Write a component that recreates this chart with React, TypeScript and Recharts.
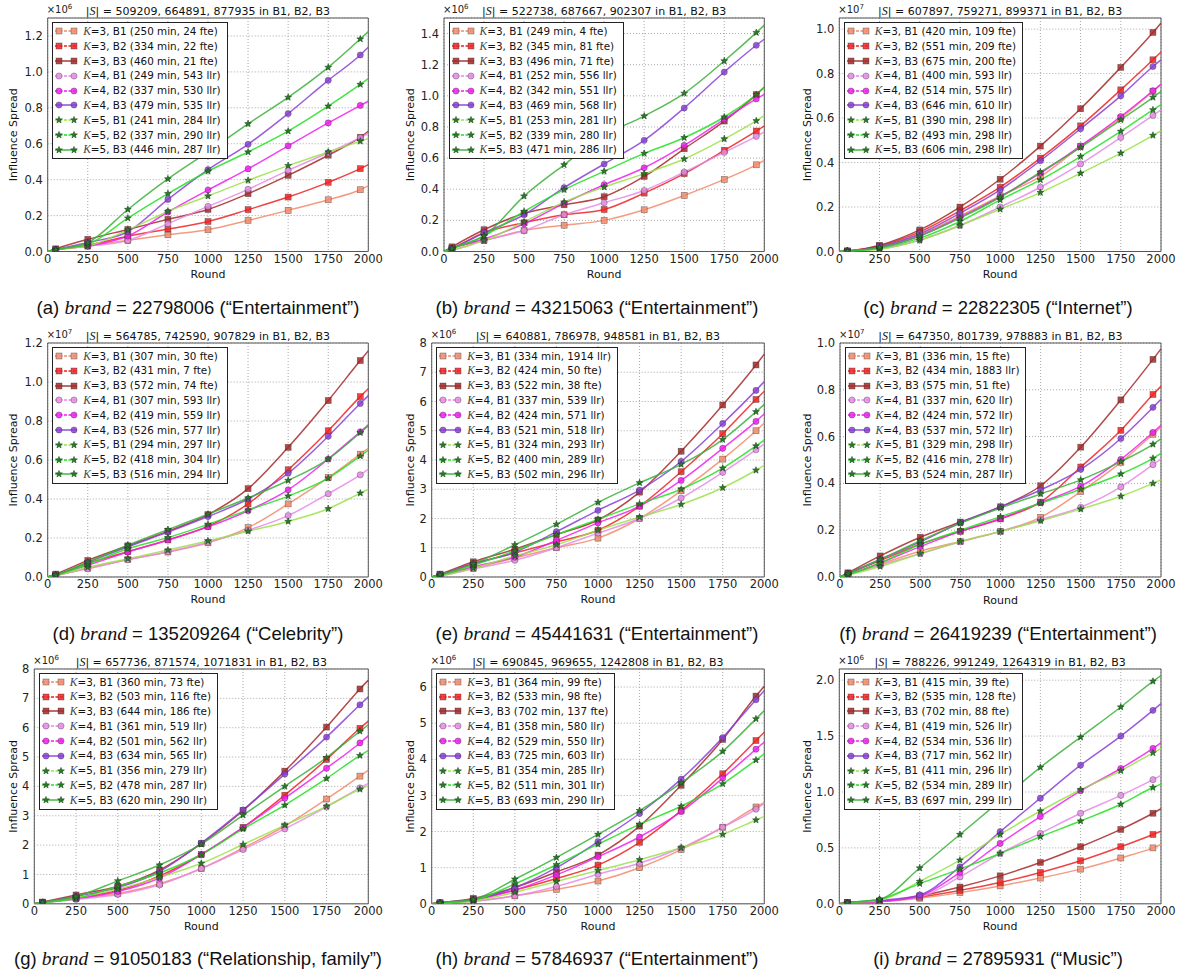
import React from "react";
import { LineChart, Line, XAxis, YAxis, CartesianGrid, Legend, ReferenceArea } from "recharts";

// x positions of the samples; 0 and 2000 are the line ends, the rest carry markers
const ROUNDS = [0, 50, 250, 500, 750, 1000, 1250, 1500, 1750, 1950, 2000];
const X_TICKS = [0, 250, 500, 750, 1000, 1250, 1500, 1750, 2000];

// series order in every panel: K=3 B1..B3, K=4 B1..B3, K=5 B1..B3
const SERIES_KEYS = ["k3b1", "k3b2", "k3b3", "k4b1", "k4b2", "k4b3", "k5b1", "k5b2", "k5b3"];
const SERIES_K = [3, 3, 3, 4, 4, 4, 5, 5, 5];
const SERIES_B = ["B1", "B2", "B3", "B1", "B2", "B3", "B1", "B2", "B3"];
const SERIES_COLORS = ["#f28b6b", "#ee2222", "#a52a2a", "#e68ae6", "#f020f0", "#8a3fd8", "#9be24a", "#22e022", "#3cb03c"];
const SERIES_SHAPES = ["square", "square", "square", "circle", "circle", "circle", "star", "star", "star"];

// (a) brand 22798006, x10^6
const valuesA = [
  [0, 0.008, 0.03, 0.062, 0.093, 0.121, 0.173, 0.229, 0.288, 0.344, 0.365],
  [0, 0.01, 0.035, 0.085, 0.125, 0.167, 0.233, 0.303, 0.385, 0.461, 0.484],
  [0, 0.015, 0.068, 0.123, 0.179, 0.234, 0.322, 0.424, 0.536, 0.636, 0.67],
  [0, 0.01, 0.03, 0.061, 0.155, 0.251, 0.346, 0.452, 0.55, 0.634, 0.657],
  [0, 0.01, 0.03, 0.086, 0.22, 0.342, 0.46, 0.588, 0.716, 0.813, 0.837],
  [0, 0.01, 0.05, 0.11, 0.29, 0.456, 0.597, 0.768, 0.953, 1.094, 1.137],
  [0, 0.01, 0.03, 0.12, 0.223, 0.309, 0.396, 0.478, 0.554, 0.614, 0.629],
  [0, 0.01, 0.04, 0.186, 0.322, 0.447, 0.554, 0.67, 0.809, 0.93, 0.962],
  [0, 0.01, 0.05, 0.234, 0.404, 0.555, 0.711, 0.858, 1.025, 1.183, 1.224],
];
const legendA = ["250 min, 24 fte", "334 min, 22 fte", "460 min, 21 fte", "249 min, 543 llr", "337 min, 530 llr", "479 min, 535 llr", "241 min, 284 llr", "337 min, 290 llr", "446 min, 287 llr"];

// (b) brand 43215063, x10^6
const valuesB = [
  [0, 0.02, 0.07, 0.135, 0.169, 0.2, 0.268, 0.36, 0.463, 0.557, 0.585],
  [0, 0.02, 0.12, 0.185, 0.236, 0.27, 0.375, 0.5, 0.65, 0.774, 0.806],
  [0, 0.03, 0.14, 0.245, 0.3, 0.352, 0.482, 0.66, 0.838, 1.008, 1.057],
  [0, 0.01, 0.07, 0.135, 0.236, 0.313, 0.392, 0.51, 0.637, 0.74, 0.768],
  [0, 0.02, 0.08, 0.178, 0.31, 0.429, 0.538, 0.682, 0.849, 0.98, 1.01],
  [0, 0.02, 0.12, 0.236, 0.41, 0.562, 0.714, 0.922, 1.153, 1.325, 1.364],
  [0, 0.01, 0.07, 0.19, 0.317, 0.414, 0.5, 0.594, 0.723, 0.84, 0.875],
  [0, 0.02, 0.1, 0.257, 0.397, 0.515, 0.63, 0.731, 0.864, 1.008, 1.053],
  [0, 0.02, 0.1, 0.356, 0.557, 0.745, 0.87, 1.016, 1.224, 1.406, 1.454],
];
const legendB = ["249 min, 4 fte", "345 min, 81 fte", "496 min, 71 fte", "252 min, 556 llr", "342 min, 551 llr", "469 min, 568 llr", "253 min, 281 llr", "339 min, 280 llr", "471 min, 286 llr"];

// (c) brand 22822305, x10^7
const valuesC = [
  [0, 0.002, 0.02, 0.075, 0.16, 0.25, 0.337, 0.472, 0.6, 0.72, 0.75],
  [0, 0.002, 0.025, 0.088, 0.183, 0.289, 0.42, 0.565, 0.727, 0.862, 0.897],
  [0, 0.002, 0.028, 0.097, 0.2, 0.325, 0.474, 0.642, 0.828, 0.985, 1.027],
  [0, 0.002, 0.012, 0.052, 0.117, 0.2, 0.289, 0.394, 0.513, 0.612, 0.637],
  [0, 0.002, 0.018, 0.07, 0.154, 0.247, 0.352, 0.475, 0.607, 0.723, 0.753],
  [0, 0.002, 0.022, 0.08, 0.172, 0.277, 0.408, 0.552, 0.7, 0.832, 0.862],
  [0, 0.002, 0.01, 0.05, 0.117, 0.19, 0.265, 0.352, 0.442, 0.522, 0.543],
  [0, 0.002, 0.015, 0.06, 0.135, 0.232, 0.322, 0.427, 0.54, 0.637, 0.66],
  [0, 0.002, 0.018, 0.07, 0.15, 0.244, 0.357, 0.468, 0.592, 0.693, 0.72],
];
const legendC = ["420 min, 109 fte", "551 min, 209 fte", "675 min, 200 fte", "400 min, 593 llr", "514 min, 575 llr", "646 min, 610 llr", "390 min, 298 llr", "493 min, 298 llr", "606 min, 298 llr"];

// (d) brand 135209264, x10^7
const valuesD = [
  [0, 0.008, 0.045, 0.09, 0.128, 0.175, 0.253, 0.375, 0.51, 0.63, 0.66],
  [0, 0.01, 0.07, 0.13, 0.19, 0.26, 0.375, 0.55, 0.75, 0.925, 0.965],
  [0, 0.015, 0.085, 0.16, 0.235, 0.32, 0.453, 0.665, 0.905, 1.11, 1.16],
  [0, 0.008, 0.042, 0.088, 0.13, 0.178, 0.24, 0.315, 0.427, 0.524, 0.552],
  [0, 0.01, 0.06, 0.128, 0.19, 0.257, 0.34, 0.447, 0.605, 0.745, 0.78],
  [0, 0.01, 0.075, 0.155, 0.23, 0.31, 0.4, 0.532, 0.722, 0.89, 0.93],
  [0, 0.008, 0.05, 0.094, 0.138, 0.185, 0.235, 0.285, 0.35, 0.43, 0.45],
  [0, 0.01, 0.065, 0.145, 0.202, 0.27, 0.343, 0.415, 0.507, 0.62, 0.65],
  [0, 0.01, 0.077, 0.163, 0.243, 0.322, 0.405, 0.495, 0.605, 0.74, 0.775],
];
const legendD = ["307 min, 30 fte", "431 min, 7 fte", "572 min, 74 fte", "307 min, 593 llr", "419 min, 559 llr", "526 min, 577 llr", "294 min, 297 llr", "418 min, 304 llr", "516 min, 294 llr"];

// (e) brand 45441631, x10^6
const valuesE = [
  [0, 0.05, 0.3, 0.65, 1.0, 1.33, 2.0, 2.95, 4.03, 5.0, 5.27],
  [0, 0.08, 0.45, 0.82, 1.2, 1.6, 2.42, 3.6, 4.9, 6.07, 6.35],
  [0, 0.1, 0.52, 0.95, 1.45, 1.95, 2.9, 4.3, 5.88, 7.25, 7.62],
  [0, 0.04, 0.28, 0.57, 1.0, 1.5, 2.0, 2.7, 3.58, 4.35, 4.55],
  [0, 0.05, 0.35, 0.68, 1.25, 1.85, 2.42, 3.3, 4.4, 5.32, 5.58],
  [0, 0.08, 0.45, 0.85, 1.55, 2.28, 2.97, 3.95, 5.25, 6.38, 6.68],
  [0, 0.04, 0.3, 0.72, 1.1, 1.6, 2.05, 2.48, 3.05, 3.65, 3.82],
  [0, 0.06, 0.4, 0.9, 1.45, 1.97, 2.5, 3.0, 3.72, 4.48, 4.68],
  [0, 0.08, 0.45, 1.1, 1.8, 2.55, 3.22, 3.85, 4.7, 5.65, 5.9],
];
const legendE = ["334 min, 1914 llr", "424 min, 50 fte", "522 min, 38 fte", "337 min, 539 llr", "424 min, 571 llr", "521 min, 518 llr", "324 min, 293 llr", "400 min, 289 llr", "502 min, 296 llr"];

// (f) brand 26419239, x10^7
const valuesF = [
  [0, 0.01, 0.055, 0.11, 0.152, 0.195, 0.255, 0.365, 0.49, 0.61, 0.64],
  [0, 0.015, 0.07, 0.14, 0.195, 0.248, 0.32, 0.47, 0.627, 0.78, 0.815],
  [0, 0.018, 0.09, 0.17, 0.235, 0.3, 0.39, 0.555, 0.757, 0.93, 0.975],
  [0, 0.01, 0.05, 0.1, 0.15, 0.195, 0.245, 0.298, 0.385, 0.48, 0.505],
  [0, 0.01, 0.06, 0.13, 0.195, 0.25, 0.318, 0.388, 0.503, 0.618, 0.648],
  [0, 0.015, 0.075, 0.15, 0.232, 0.3, 0.372, 0.46, 0.592, 0.725, 0.76],
  [0, 0.008, 0.045, 0.1, 0.152, 0.195, 0.24, 0.29, 0.345, 0.4, 0.415],
  [0, 0.01, 0.06, 0.14, 0.2, 0.258, 0.315, 0.375, 0.44, 0.507, 0.528],
  [0, 0.015, 0.075, 0.155, 0.23, 0.295, 0.355, 0.415, 0.493, 0.567, 0.59],
];
const legendF = ["336 min, 15 fte", "434 min, 1883 llr", "575 min, 51 fte", "337 min, 620 llr", "424 min, 572 llr", "537 min, 572 llr", "329 min, 298 llr", "416 min, 278 llr", "524 min, 287 llr"];

// (g) brand 91050183, x10^6
const valuesG = [
  [0, 0.04, 0.18, 0.35, 0.68, 1.2, 1.9, 2.65, 3.57, 4.35, 4.55],
  [0, 0.05, 0.2, 0.45, 0.95, 1.68, 2.6, 3.7, 4.92, 5.98, 6.22],
  [0, 0.06, 0.3, 0.6, 1.15, 2.05, 3.18, 4.52, 6.02, 7.32, 7.62],
  [0, 0.03, 0.15, 0.32, 0.65, 1.2, 1.85, 2.55, 3.3, 3.95, 4.1],
  [0, 0.04, 0.18, 0.42, 0.88, 1.68, 2.6, 3.6, 4.62, 5.48, 5.72],
  [0, 0.05, 0.25, 0.55, 1.1, 2.07, 3.2, 4.42, 5.68, 6.78, 7.05],
  [0, 0.04, 0.2, 0.5, 0.9, 1.38, 2.02, 2.68, 3.32, 3.9, 4.02],
  [0, 0.04, 0.18, 0.6, 1.05, 1.68, 2.55, 3.36, 4.27, 5.05, 5.22],
  [0, 0.05, 0.25, 0.78, 1.32, 2.03, 3.02, 4.0, 4.98, 5.88, 6.1],
];
const legendG = ["360 min, 73 fte", "503 min, 116 fte", "644 min, 186 fte", "361 min, 519 llr", "501 min, 562 llr", "634 min, 565 llr", "356 min, 279 llr", "478 min, 287 llr", "620 min, 290 llr"];

// (h) brand 57846937, x10^6
const valuesH = [
  [0, 0.02, 0.07, 0.22, 0.4, 0.63, 1.0, 1.5, 2.12, 2.68, 2.8],
  [0, 0.02, 0.12, 0.38, 0.7, 1.07, 1.7, 2.58, 3.6, 4.52, 4.75],
  [0, 0.03, 0.15, 0.45, 0.88, 1.35, 2.15, 3.28, 4.55, 5.75, 6.02],
  [0, 0.02, 0.07, 0.22, 0.48, 0.82, 1.12, 1.55, 2.12, 2.62, 2.78],
  [0, 0.02, 0.1, 0.38, 0.8, 1.3, 1.85, 2.55, 3.48, 4.28, 4.48],
  [0, 0.03, 0.12, 0.45, 1.0, 1.72, 2.5, 3.45, 4.6, 5.65, 5.9],
  [0, 0.02, 0.08, 0.32, 0.62, 0.92, 1.22, 1.55, 1.92, 2.32, 2.42],
  [0, 0.02, 0.1, 0.55, 1.08, 1.65, 2.2, 2.7, 3.32, 3.98, 4.15],
  [0, 0.03, 0.12, 0.68, 1.28, 1.92, 2.58, 3.35, 4.22, 5.12, 5.35],
];
const legendH = ["364 min, 99 fte", "533 min, 98 fte", "702 min, 137 fte", "358 min, 580 llr", "529 min, 550 llr", "725 min, 603 llr", "354 min, 285 llr", "511 min, 301 llr", "693 min, 290 llr"];

// (i) brand 27895931, x10^6
const valuesI = [
  [0, 0.01, 0.02, 0.05, 0.1, 0.16, 0.23, 0.31, 0.41, 0.5, 0.53],
  [0, 0.01, 0.02, 0.06, 0.12, 0.19, 0.28, 0.385, 0.51, 0.62, 0.65],
  [0, 0.01, 0.02, 0.07, 0.15, 0.25, 0.37, 0.51, 0.665, 0.81, 0.85],
  [0, 0.01, 0.02, 0.06, 0.24, 0.45, 0.63, 0.81, 0.97, 1.11, 1.15],
  [0, 0.01, 0.02, 0.07, 0.28, 0.54, 0.78, 1.01, 1.21, 1.39, 1.44],
  [0, 0.01, 0.03, 0.08, 0.33, 0.645, 0.945, 1.24, 1.5, 1.73, 1.79],
  [0, 0.01, 0.03, 0.2, 0.39, 0.62, 0.83, 1.02, 1.19, 1.35, 1.39],
  [0, 0.01, 0.04, 0.18, 0.31, 0.45, 0.6, 0.74, 0.89, 1.04, 1.07],
  [0, 0.01, 0.04, 0.32, 0.62, 0.92, 1.22, 1.49, 1.76, 1.99, 2.04],
];
const legendI = ["415 min, 39 fte", "535 min, 128 fte", "702 min, 88 fte", "419 min, 526 llr", "534 min, 536 llr", "717 min, 562 llr", "411 min, 296 llr", "534 min, 289 llr", "697 min, 299 llr"];

const TICKS_02_12 = [0, 0.2, 0.4, 0.6, 0.8, 1.0, 1.2];
const TICKS_02_14 = [0, 0.2, 0.4, 0.6, 0.8, 1.0, 1.2, 1.4];
const TICKS_02_10 = [0, 0.2, 0.4, 0.6, 0.8, 1.0];
const TICKS_1_8 = [0, 1, 2, 3, 4, 5, 6, 7, 8];
const TICKS_1_6 = [0, 1, 2, 3, 4, 5, 6];
const TICKS_05_20 = [0, 0.5, 1.0, 1.5, 2.0];

const PANELS = [
  { id: "a", brand: "22798006", topic: "Entertainment", sizes: "509209, 664891, 877935", exp: 6, yMax: 1.3, yTicks: TICKS_02_12, dec: 1, values: valuesA, legend: legendA, col: 0, row: 0, plotLeft: 47.7 },
  { id: "b", brand: "43215063", topic: "Entertainment", sizes: "522738, 687667, 902307", exp: 6, yMax: 1.5, yTicks: TICKS_02_14, dec: 1, values: valuesB, legend: legendB, col: 1, row: 0, plotLeft: 444 },
  { id: "c", brand: "22822305", topic: "Internet", sizes: "607897, 759271, 899371", exp: 7, yMax: 1.05, yTicks: TICKS_02_10, dec: 1, values: valuesC, legend: legendC, col: 2, row: 0, plotLeft: 839.3 },
  { id: "d", brand: "135209264", topic: "Celebrity", sizes: "564785, 742590, 907829", exp: 7, yMax: 1.2, yTicks: TICKS_02_12, dec: 1, values: valuesD, legend: legendD, col: 0, row: 1, plotLeft: 47.7 },
  { id: "e", brand: "45441631", topic: "Entertainment", sizes: "640881, 786978, 948581", exp: 6, yMax: 8, yTicks: TICKS_1_8, dec: 0, values: valuesE, legend: legendE, col: 1, row: 1, plotLeft: 431.7 },
  { id: "f", brand: "26419239", topic: "Entertainment", sizes: "647350, 801739, 978883", exp: 7, yMax: 1.0, yTicks: TICKS_02_10, dec: 1, values: valuesF, legend: legendF, col: 2, row: 1, plotLeft: 840 },
  { id: "g", brand: "91050183", topic: "Relationship, family", sizes: "657736, 871574, 1071831", exp: 6, yMax: 8, yTicks: TICKS_1_8, dec: 0, values: valuesG, legend: legendG, col: 0, row: 2, plotLeft: 34.3 },
  { id: "h", brand: "57846937", topic: "Entertainment", sizes: "690845, 969655, 1242808", exp: 6, yMax: 6.5, yTicks: TICKS_1_6, dec: 0, values: valuesH, legend: legendH, col: 1, row: 2, plotLeft: 431.7 },
  { id: "i", brand: "27895931", topic: "Music", sizes: "788226, 991249, 1264319", exp: 6, yMax: 2.1, yTicks: TICKS_05_20, dec: 1, values: valuesI, legend: legendI, col: 2, row: 2, plotLeft: 839.3 },
];

// grid geometry
const COLS = [
  { x: 0, plotRight: 368.3, labelX: 13.3, captionX: 198 },
  { x: 395, plotRight: 764.3, labelX: 15.5, captionX: 597 },
  { x: 790, plotRight: 1161, labelX: 17.3, captionX: 998 },
];
const ROWS = [
  { plotTop: 18, plotBottom: 251.5, captionY: 308 },
  { plotTop: 342.7, plotBottom: 576.7, captionY: 634 },
  { plotTop: 668.5, plotBottom: 903.3, captionY: 959 },
];
const TOP_PAD = 18;
const RIGHT_PAD = 20;
const X_AXIS_H = 34;

const SANS = '"DejaVu Sans", sans-serif';
const MATH = '"Liberation Serif", "DejaVu Serif", serif';

function starPoints(cx: number, cy: number, R: number, r: number) {
  const pts: string[] = [];
  for (let i = 0; i < 10; i++) {
    const a = -Math.PI / 2 + (i * Math.PI) / 5;
    const rad = i % 2 === 0 ? R : r;
    pts.push(`${cx + rad * Math.cos(a)},${cy + rad * Math.sin(a)}`);
  }
  return pts.join(" ");
}

function Mark({ cx, cy, shape, color }: { cx: number; cy: number; shape: string; color: string }) {
  if (shape === "square") {
    return <rect x={cx - 3} y={cy - 3} width={6} height={6} fill={color} fillOpacity={0.85} stroke="#333" strokeOpacity={0.6} strokeWidth={0.6} />;
  }
  if (shape === "circle") {
    return <circle cx={cx} cy={cy} r={3.1} fill={color} fillOpacity={0.85} stroke="#333" strokeOpacity={0.6} strokeWidth={0.6} />;
  }
  return <polygon points={starPoints(cx, cy, 3.6, 1.5)} fill="#2a7a2a" stroke="#103c10" strokeWidth={0.5} />;
}

const makeDot = (shape: string, color: string) => (props: any) => {
  const { cx, cy, index } = props;
  if (index === 0 || index === ROUNDS.length - 1 || cx == null || cy == null) {
    return <g key={`e-${index}`} />;
  }
  return (
    <g key={`m-${index}`}>
      <Mark cx={cx} cy={cy} shape={shape} color={color} />
    </g>
  );
};

function YLabel(props: any) {
  const vb = props.viewBox || { x: 0, y: 0, width: 0, height: 0 };
  const x = vb.x + props.dxPos;
  const y = vb.y + vb.height / 2;
  return (
    <text x={x} y={y} transform={`rotate(-90 ${x} ${y})`} textAnchor="middle" dominantBaseline="central" fontSize={11} fontFamily={SANS} fill="#111">
      Influence Spread
    </text>
  );
}

function XLabel(props: any) {
  const vb = props.viewBox || { x: 0, y: 0, width: 0, height: 0 };
  return (
    <text x={vb.x + vb.width / 2} y={vb.y + 23} textAnchor="middle" dominantBaseline="central" fontSize={11} fontFamily={SANS} fill="#111">
      Round
    </text>
  );
}

function LegendBox({ items }: { items: string[] }) {
  return (
    <div style={{ border: "1px solid #222", background: "#fff", padding: "1px 6px 1px 0", fontFamily: SANS, fontSize: 10.4, color: "#111", lineHeight: "14.8px" }}>
      {items.map((txt, i) => (
        <div key={i} style={{ display: "flex", alignItems: "center", height: 14.8, whiteSpace: "nowrap" }}>
          <svg width={30} height={10} style={{ flex: "none" }}>
            <line x1={2} y1={5} x2={24} y2={5} stroke={SERIES_COLORS[i]} strokeWidth={1.4} strokeDasharray={i % 3 === 2 ? undefined : "3 1.5"} />
            <Mark cx={6} cy={5} shape={SERIES_SHAPES[i]} color={SERIES_COLORS[i]} />
            <Mark cx={21} cy={5} shape={SERIES_SHAPES[i]} color={SERIES_COLORS[i]} />
          </svg>
          <span>
            <span style={{ fontFamily: MATH, fontStyle: "italic", fontSize: 11.5, color: "#444" }}>K</span>={SERIES_K[i]}, {SERIES_B[i]} ({txt})
          </span>
        </div>
      ))}
    </div>
  );
}

function Panel({ p }: { p: (typeof PANELS)[number] }) {
  const col = COLS[p.col];
  const row = ROWS[p.row];
  const plotW = col.plotRight - p.plotLeft;
  const plotH = row.plotBottom - row.plotTop;
  const width = col.plotRight - col.x + RIGHT_PAD;
  const height = TOP_PAD + plotH + X_AXIS_H;
  const yAxisW = p.plotLeft - col.x;

  const data = ROUNDS.map((r, i) => {
    const o: Record<string, number> = { round: r };
    p.values.forEach((s, j) => {
      o[SERIES_KEYS[j]] = s[i];
    });
    return o;
  });

  const tickStyle = { fontSize: 11.5, fill: "#222", fontFamily: SANS };

  return (
    <>
      <div style={{ position: "absolute", left: col.x, top: row.plotTop - TOP_PAD, width, height }}>
        <LineChart width={width} height={height} data={data} margin={{ top: TOP_PAD, right: RIGHT_PAD, bottom: 0, left: 0 }}>
          <CartesianGrid stroke="#a8a8a8" strokeDasharray="1 2" />
          <XAxis
            dataKey="round"
            type="number"
            domain={[0, 2000]}
            ticks={X_TICKS}
            interval={0}
            height={X_AXIS_H}
            tickLine={false}
            axisLine={false}
            tickSize={0}
            tickMargin={3}
            tick={tickStyle}
            label={<XLabel />}
          />
          <YAxis
            type="number"
            domain={[0, p.yMax]}
            ticks={p.yTicks}
            interval={0}
            allowDataOverflow
            width={yAxisW}
            tickLine={false}
            axisLine={false}
            tickSize={0}
            tickMargin={5}
            tick={tickStyle}
            tickFormatter={(v: number) => (p.dec ? v.toFixed(1) : String(v))}
            label={<YLabel dxPos={col.labelX} />}
          />
          {SERIES_KEYS.map((k, j) => (
            <Line
              key={k}
              dataKey={k}
              type="monotone"
              stroke={SERIES_COLORS[j]}
              strokeWidth={1.5}
              strokeOpacity={0.85}
              dot={makeDot(SERIES_SHAPES[j], SERIES_COLORS[j])}
              activeDot={false}
              isAnimationActive={false}
            />
          ))}
          <ReferenceArea x1={0} x2={2000} y1={0} y2={p.yMax} fill="none" stroke="#555" strokeWidth={1} />
          <Legend
            layout="vertical"
            align="center"
            verticalAlign="middle"
            wrapperStyle={{ left: yAxisW + 4.5, top: TOP_PAD + 4, width: "auto", height: "auto" }}
            content={() => <LegendBox items={p.legend} />}
          />
        </LineChart>
      </div>
      {/* scale factor above the y axis */}
      <div style={{ position: "absolute", left: p.plotLeft - 1, top: row.plotTop - 15, fontFamily: SANS, fontSize: 10, lineHeight: "14px", color: "#222", whiteSpace: "nowrap" }}>
        ×10<span style={{ fontSize: 7, position: "relative", top: -4 }}>{p.exp}</span>
      </div>
      {/* panel title */}
      <div style={{ position: "absolute", left: p.plotLeft, width: plotW, top: row.plotTop - 14, textAlign: "center", fontFamily: SANS, fontSize: 11, lineHeight: "14px", color: "#111", whiteSpace: "nowrap" }}>
        |<span style={{ fontFamily: MATH, fontStyle: "italic", fontSize: 12 }}>S</span>| = {p.sizes} in B1, B2, B3
      </div>
      {/* caption */}
      <div style={{ position: "absolute", left: col.captionX - 200, width: 400, top: row.captionY - 12, textAlign: "center", fontFamily: '"Liberation Sans", Arial, sans-serif', fontSize: 18.5, lineHeight: "24px", color: "#111", whiteSpace: "nowrap" }}>
        ({p.id}) <span style={{ fontFamily: MATH, fontStyle: "italic", fontSize: 19.5 }}>brand</span> = {p.brand} (“{p.topic}”)
      </div>
    </>
  );
}

export default function App() {
  return (
    <div style={{ position: "absolute", left: 0, top: 0, width: 1183, height: 972, background: "#fff", overflow: "hidden" }}>
      {PANELS.map((p) => (
        <Panel key={p.id} p={p} />
      ))}
    </div>
  );
}
